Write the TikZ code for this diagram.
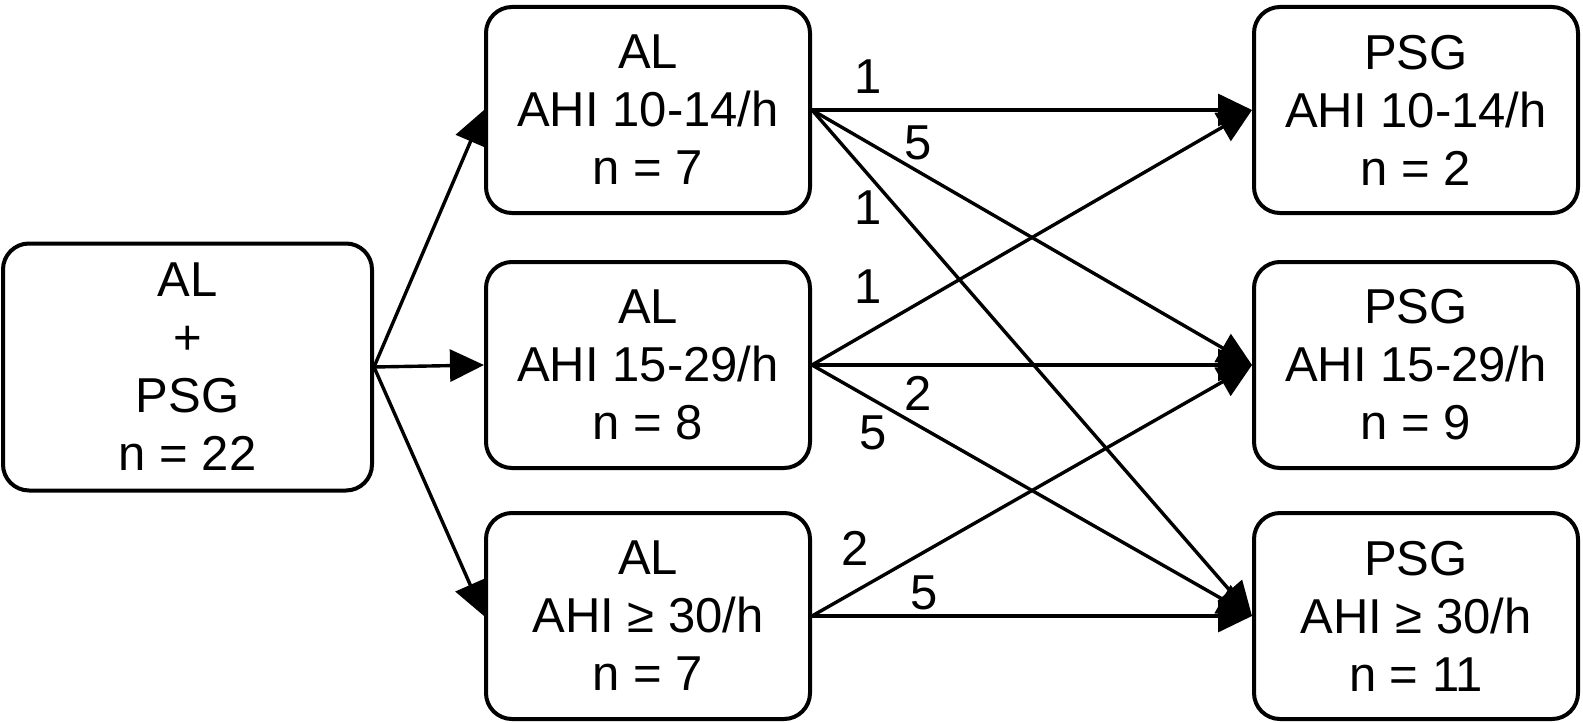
\documentclass[tikz,border=0pt]{standalone}
\usepackage{fontspec}
\setmainfont{Liberation Sans}
\usetikzlibrary{arrows.meta}
\tikzset{
  box/.style={draw, line width=2pt, rounded corners=13pt, align=center, inner sep=0pt,
    font=\fontsize{24.5}{29}\selectfont},
  midbox/.style={box, minimum width=162pt, minimum height=103pt},
  leftbox/.style={box, minimum width=184.5pt, minimum height=123.5pt},
  conn/.style={line width=1.7pt, -{Triangle[length=17pt,width=16pt]}},
  lab/.style={font=\fontsize{24.5}{28}\selectfont, inner sep=0pt}
}
\begin{document}
\begin{tikzpicture}[x=0.5pt,y=-0.5pt]
\useasboundingbox (0,0) rectangle (1583,722);
\node[leftbox] (L) at (187.5,367) {AL\\+\\PSG\\n = 22};
\node[midbox] (M1) at (648,110) {AL\\AHI 10-14/h\\n = 7};
\node[midbox] (M2) at (648,365) {AL\\AHI 15-29/h\\n = 8};
\node[midbox] (M3) at (648,616) {AL\\AHI ≥ 30/h\\n = 7};
\node[midbox] (R1) at (1416,110) {PSG\\AHI 10-14/h\\n = 2};
\node[midbox] (R2) at (1416,365) {PSG\\AHI 15-29/h\\n = 9};
\node[midbox] (R3) at (1416,616) {PSG\\AHI ≥ 30/h\\n = 11};

\draw[conn] (L.east) -- (M1.west);
\draw[conn] (L.east) -- (M2.west);
\draw[conn] (L.east) -- (M3.west);

\draw[conn] (M1.east) -- (R1.west);
\draw[conn] (M1.east) -- (R2.west);
\draw[conn] (M1.east) -- (R3.west);
\draw[conn] (M2.east) -- (R1.west);
\draw[conn] (M2.east) -- (R2.west);
\draw[conn] (M2.east) -- (R3.west);
\draw[conn] (M3.east) -- (R2.west);
\draw[conn] (M3.east) -- (R3.west);

\node[lab] (a11) at (868,77) {1};
\node[lab] (a12) at (918,143) {5};
\node[lab] (a13) at (868,208) {1};
\node[lab] (a21) at (868,287) {1};
\node[lab] (a22) at (918,393) {2};
\node[lab] (a23) at (873,433) {5};
\node[lab] (a32) at (855,548) {2};
\node[lab] (a33) at (924,593) {5};
\end{tikzpicture}
\end{document}
